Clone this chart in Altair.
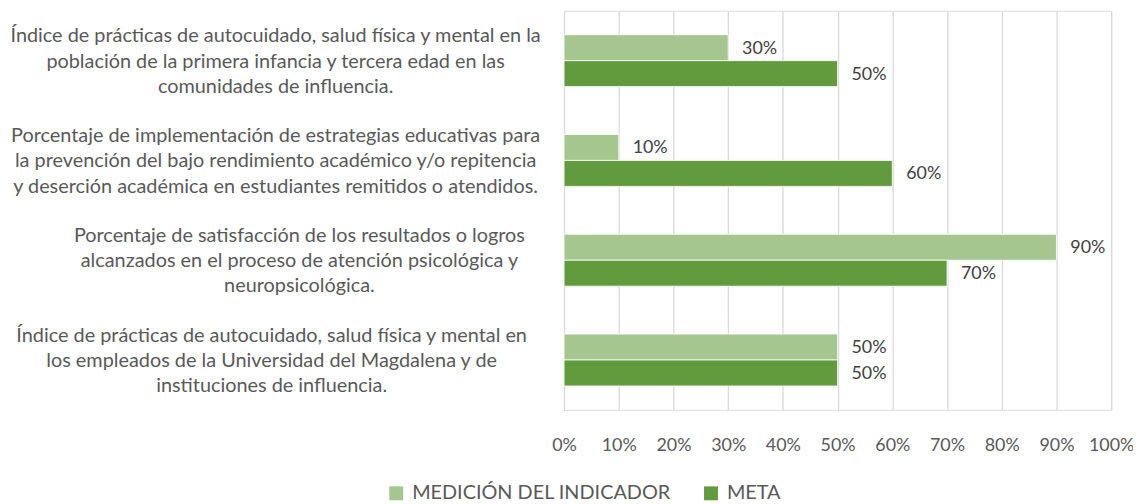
import altair as alt
import pandas as pd

categories = [
    "Índice de prácticas de autocuidado, salud física y mental en la|población de la primera infancia y tercera edad en las|comunidades de influencia.",
    "Porcentaje de implementación de estrategias educativas para|la prevención del bajo rendimiento académico y/o repitencia|y deserción académica en estudiantes remitidos o atendidos.",
    "Porcentaje de satisfacción de los resultados o logros|alcanzados en el proceso de atención psicológica y|neuropsicológica.",
    "Índice de prácticas de autocuidado, salud física y mental en|los empleados de la Universidad del Magdalena y de|instituciones de influencia.",
]
series = ["MEDICIÓN DEL INDICADOR", "META"]
medicion = [0.30, 0.10, 0.90, 0.50]
meta = [0.50, 0.60, 0.70, 0.50]
colors = ["#A5C78F", "#629B3E"]
x_ticks = [i / 10 for i in range(11)]

rows = []
for c, m1, m2 in zip(categories, medicion, meta):
    rows.append({"cat": c, "serie": series[0], "val": m1})
    rows.append({"cat": c, "serie": series[1], "val": m2})
df = pd.DataFrame(rows)

FONT = "Lato"
FS = 18
FS_CAT = 20
FS_LEG = 20

y = alt.Y(
    "cat:N",
    sort=categories,
    scale=alt.Scale(paddingInner=0.48, paddingOuter=0.24),
    axis=alt.Axis(
        title=None, domain=False, ticks=False, grid=False,
        labelExpr="split(datum.label, '|')",
        labelAlign="center", labelBaseline="middle",
        labelPadding={
            "condition": [
                {"test": "indexof(datum.value, 'neuropsicol') >= 0", "value": 267},
                {"test": "indexof(datum.value, 'Magdalena') >= 0", "value": 295},
            ],
            "value": 291,
        },
        labelLimit=700, labelOffset=-24.5,
        labelFont=FONT, labelFontSize=FS_CAT, labelColor="#595959",
        labelLineHeight=25.5,
    ),
)
x = alt.X(
    "val:Q",
    scale=alt.Scale(domain=[0, 1], nice=False),
    axis=alt.Axis(
        title=None, format=".0%", values=x_ticks, domain=False, ticks=False,
        grid=True, gridColor="#D9D9D9", gridWidth=1.3,
        labelPadding=27, labelFont=FONT, labelFontSize=FS, labelColor="#595959",
        labelFlush=False,
    ),
)
yoff = alt.YOffset("serie:N", sort=series, scale=alt.Scale(paddingInner=0, paddingOuter=0))

bars = alt.Chart(df).mark_bar(stroke="white", strokeWidth=0.8).encode(
    x=x, y=y, yOffset=yoff,
    color=alt.Color(
        "serie:N", sort=series,
        scale=alt.Scale(domain=series, range=colors),
        legend=alt.Legend(
            title=None, orient="none", legendX=-179, legendY=476,
            direction="horizontal", symbolType="square", symbolSize=196,
            symbolStrokeWidth=0, labelFont=FONT, labelFontSize=FS_LEG,
            labelColor="#595959", labelOffset=6, columnPadding=30,
            labelLimit=400,
        ),
    ),
)
labels = alt.Chart(df).mark_text(
    align="left", baseline="middle", dx=14, dy=1,
    font=FONT, fontSize=FS, color="#404040",
).encode(
    x=alt.X("val:Q"), y=alt.Y("cat:N", sort=categories), yOffset=alt.YOffset("serie:N", sort=series),
    text=alt.Text("val:Q", format=".0%"),
)

chart = alt.layer(bars, labels).properties(
    width=551, height=402,
    autosize=alt.AutoSizeParams(type="none"),
    padding={"left": 560, "top": 1, "right": 22, "bottom": 96},
).configure_view(stroke=None).configure(background="white")

chart.save("out.html", embed_options={"renderer": "svg", "actions": False})
